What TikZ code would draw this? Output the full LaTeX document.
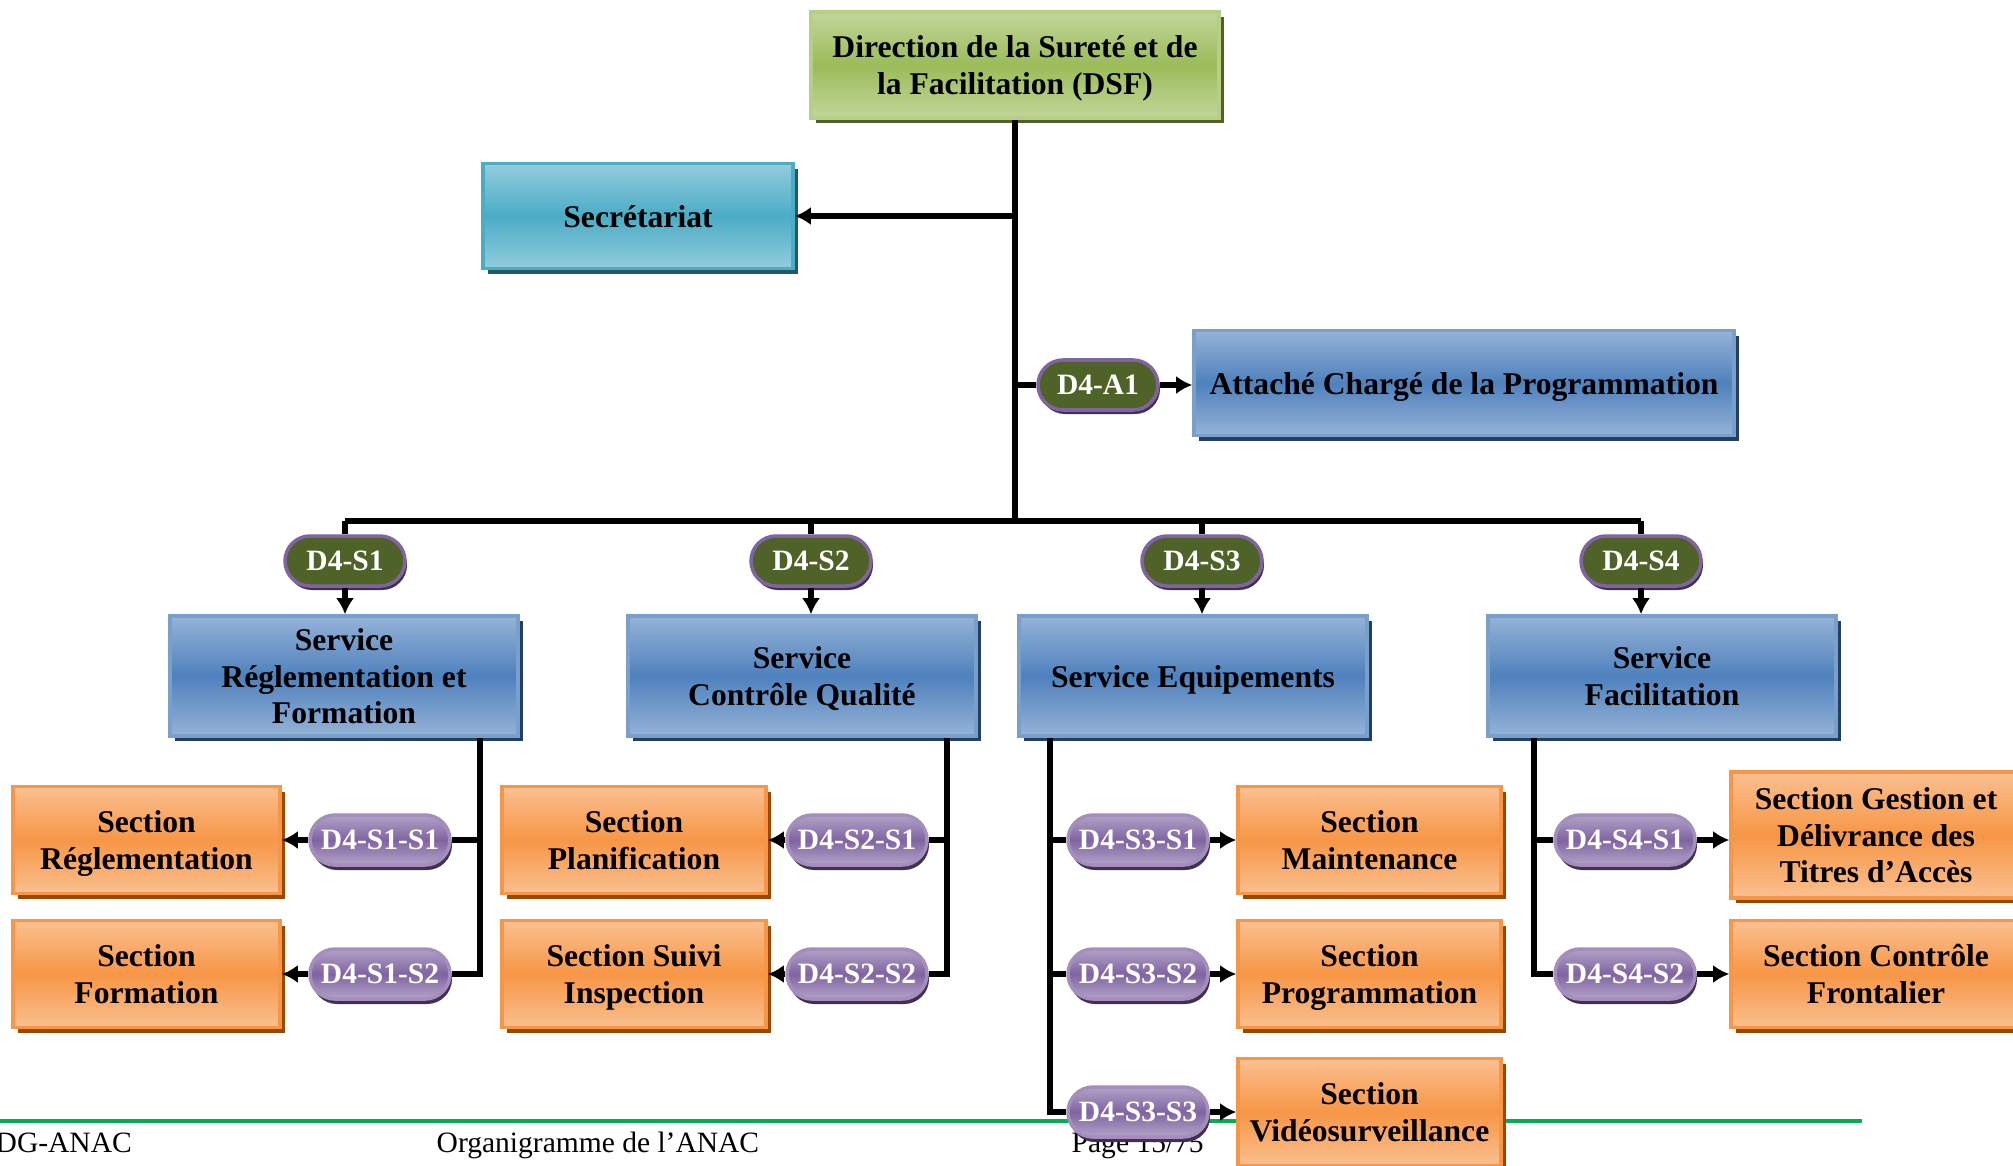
\documentclass[tikz,border=0pt]{standalone}
\usepackage{fontspec}
\setmainfont{Liberation Serif}
\usepackage{tikz}
\usetikzlibrary{shadows,arrows.meta}
\usepackage{xcolor}

\definecolor{dsfgreen}{HTML}{9BBB59}
\definecolor{dsflight}{HTML}{C3D69B}
\definecolor{dsfdark}{HTML}{4F6228}
\definecolor{secmid}{HTML}{4BACC6}
\definecolor{seclight}{HTML}{92CDDC}
\definecolor{secdark}{HTML}{215968}
\definecolor{srvmid}{HTML}{4F81BD}
\definecolor{srvlight}{HTML}{95B3D7}
\definecolor{srvdark}{HTML}{243F60}
\definecolor{sctmid}{HTML}{F79646}
\definecolor{sctlight}{HTML}{FAC090}
\definecolor{sctdark}{HTML}{984807}
\definecolor{codemid}{HTML}{8064A2}
\definecolor{codelight}{HTML}{B3A2C7}
\definecolor{codedark}{HTML}{3F3151}
\definecolor{footgreen}{HTML}{00B050}

\begin{document}
\begin{tikzpicture}[>={Latex[length=4.6pt,width=5.2pt]},
  link/.style={line width=1.8pt},
  box/.style={line width=1pt,align=center,inner sep=0pt,font=\fontsize{9}{10.5}\selectfont\bfseries},
  lines1/.style={text height=7.3pt,text depth=1pt},
  lines2/.style={text height=17.8pt,text depth=1pt},
  lines3/.style={text height=28.3pt,text depth=1pt},
  dsfbox/.style={box,draw=dsflight!70!dsfgreen,top color=dsflight,bottom color=dsflight,middle color=dsfgreen,
    drop shadow={shadow xshift=.05cm,shadow yshift=-.05cm,fill=dsfdark,opacity=1}},
  secbox/.style={box,draw=secmid,top color=seclight,bottom color=seclight,middle color=secmid,
    drop shadow={shadow xshift=.05cm,shadow yshift=-.05cm,fill=secdark,opacity=1}},
  srvbox/.style={box,draw=srvlight!60!srvmid,top color=srvlight,bottom color=srvlight,middle color=srvmid,
    minimum width=3.48cm,minimum height=1.2cm,
    drop shadow={shadow xshift=.05cm,shadow yshift=-.05cm,fill=srvdark,opacity=1}},
  sctbox/.style={box,lines2,draw=sctmid,top color=sctlight,bottom color=sctlight,middle color=sctmid,
    minimum height=1.07cm,
    drop shadow={shadow xshift=.05cm,shadow yshift=-.05cm,fill=sctdark,opacity=1}},
  code/.style={rounded corners=.25cm,minimum height=.5cm,inner sep=0pt,line width=1pt,
    text=white,font=\fontsize{8.4}{9}\selectfont\bfseries},
  svcode/.style={code,minimum width=1.2cm,fill=dsfdark,draw=codemid,
    drop shadow={shadow xshift=.02cm,shadow yshift=-.04cm,fill=codedark,opacity=1}},
  sccode/.style={code,minimum width=1.4cm,draw=codelight!70!codemid,top color=codelight,bottom color=codelight,middle color=codemid,
    drop shadow={shadow xshift=.02cm,shadow yshift=-.05cm,fill=codedark,opacity=1}},
  foot/.style={anchor=base west,inner sep=0pt,font=\fontsize{8.4}{10}\selectfont}
]

\useasboundingbox (0,0) rectangle (20.13,11.65);

%footer
\draw [footgreen,line width=.9pt] (0,.44)--(18.62,.44);
\node [foot] (fdg) at (-.05,.13) {DG-ANAC};
\node [foot] (forg) at (4.36,.13) {Organigramme de l’ANAC};
\node [foot] (fpage) at (10.71,.13) {Page 15/75};

%direction
\node [dsfbox,lines2,minimum width=4.08cm,minimum height=1.06cm] (dsf) at (10.15,11.00) {Direction de la Sureté et de\\la Facilitation (DSF)};
\node [secbox,lines1,minimum width=3.10cm,minimum height=1.05cm] (sec) at (6.38,9.49) {Secrétariat};
\node [svcode] (a1) at (10.98,7.80) {D4-A1};
\node [srvbox,lines1,minimum width=5.40cm,minimum height=1.05cm] (att) at (14.64,7.82) {Attaché Chargé de la Programmation};
\coordinate (bus) at (0,6.44);

\draw [link] (dsf.south)--(dsf.south |- bus);
\draw [link,->] (dsf.south |- sec.east)--(sec.east);
\draw [link] (dsf.south |- a1.west)--(a1.west);
\draw [link,->] (a1.east)--(a1.east -| att.west);

%services
\node [svcode] (s1p) at (3.45,6.04) {D4-S1};
\node [svcode] (s2p) at (8.11,6.04) {D4-S2};
\node [svcode] (s3p) at (12.02,6.04) {D4-S3};
\node [svcode] (s4p) at (16.41,6.04) {D4-S4};

\node [srvbox,lines3] (s1) at (3.44,4.89) {Service\\Réglementation et\\Formation};
\node [srvbox,lines2] (s2) at (8.02,4.89) {Service\\Contrôle Qualité};
\node [srvbox,lines1] (s3) at (11.93,4.89) {Service Equipements};
\node [srvbox,lines2] (s4) at (16.62,4.89) {Service\\Facilitation};

\draw [link] (s1p.north |- bus)--(s4p.north |- bus);
\draw [link] (s1p.north |- bus)--(s1p.north);
\draw [link] (s2p.north |- bus)--(s2p.north);
\draw [link] (s3p.north |- bus)--(s3p.north);
\draw [link] (s4p.north |- bus)--(s4p.north);
\draw [link,->] (s1p.south)--(s1p.south |- s1.north);
\draw [link,->] (s2p.south)--(s2p.south |- s2.north);
\draw [link,->] (s3p.south)--(s3p.south |- s3.north);
\draw [link,->] (s4p.south)--(s4p.south |- s4.north);

%sections S1
\coordinate (v1) at (4.80,0);
\node [sccode] (s11p) at (3.80,3.25) {D4-S1-S1};
\node [sccode] (s12p) at (3.80,1.91) {D4-S1-S2};
\node [sctbox,minimum width=2.67cm] (s11) at (1.465,3.25) {Section\\Réglementation};
\node [sctbox,minimum width=2.67cm] (s12) at (1.465,1.91) {Section\\Formation};
\draw [link] (v1 |- s1.south) |- (s12p.east);
\draw [link] (v1 |- s11p)--(s11p.east);
\draw [link,->] (s11p.west)--(s11p.west -| s11.east);
\draw [link,->] (s12p.west)--(s12p.west -| s12.east);

%sections S2
\coordinate (v2) at (9.47,0);
\node [sccode] (s21p) at (8.57,3.25) {D4-S2-S1};
\node [sccode] (s22p) at (8.57,1.91) {D4-S2-S2};
\node [sctbox,minimum width=2.64cm] (s21) at (6.34,3.25) {Section\\Planification};
\node [sctbox,minimum width=2.64cm] (s22) at (6.34,1.91) {Section Suivi\\Inspection};
\draw [link] (v2 |- s2.south) |- (s22p.east);
\draw [link] (v2 |- s21p)--(s21p.east);
\draw [link,->] (s21p.west)--(s21p.west -| s21.east);
\draw [link,->] (s22p.west)--(s22p.west -| s22.east);

%sections S3
\coordinate (v3) at (10.50,0);
\node [sccode] (s31p) at (11.38,3.25) {D4-S3-S1};
\node [sccode] (s32p) at (11.38,1.91) {D4-S3-S2};
\node [sccode] (s33p) at (11.38,.53) {D4-S3-S3};
\node [sctbox,minimum width=2.63cm] (s31) at (13.695,3.25) {Section\\Maintenance};
\node [sctbox,minimum width=2.63cm] (s32) at (13.695,1.91) {Section\\Programmation};
\node [sctbox,minimum width=2.63cm] (s33) at (13.695,.53) {Section\\Vidéosurveillance};
\draw [link] (v3 |- s3.south) |- (s33p.west);
\draw [link] (v3 |- s31p)--(s31p.west);
\draw [link] (v3 |- s32p)--(s32p.west);
\draw [link,->] (s31p.east)--(s31p.east -| s31.west);
\draw [link,->] (s32p.east)--(s32p.east -| s32.west);
\draw [link,->] (s33p.east)--(s33p.east -| s33.west);

%sections S4
\coordinate (v4) at (15.34,0);
\node [sccode] (s41p) at (16.25,3.25) {D4-S4-S1};
\node [sccode] (s42p) at (16.25,1.91) {D4-S4-S2};
\node [sctbox,lines3,minimum width=2.90cm,minimum height=1.26cm] (s41) at (18.76,3.30) {Section Gestion et\\Délivrance des\\Titres d’Accès};
\node [sctbox,minimum width=2.90cm] (s42) at (18.76,1.91) {Section Contrôle\\Frontalier};
\draw [link] (v4 |- s4.south) |- (s42p.west);
\draw [link] (v4 |- s41p)--(s41p.west);
\draw [link,->] (s41p.east)--(s41p.east -| s41.west);
\draw [link,->] (s42p.east)--(s42p.east -| s42.west);

\end{tikzpicture}
\end{document}
